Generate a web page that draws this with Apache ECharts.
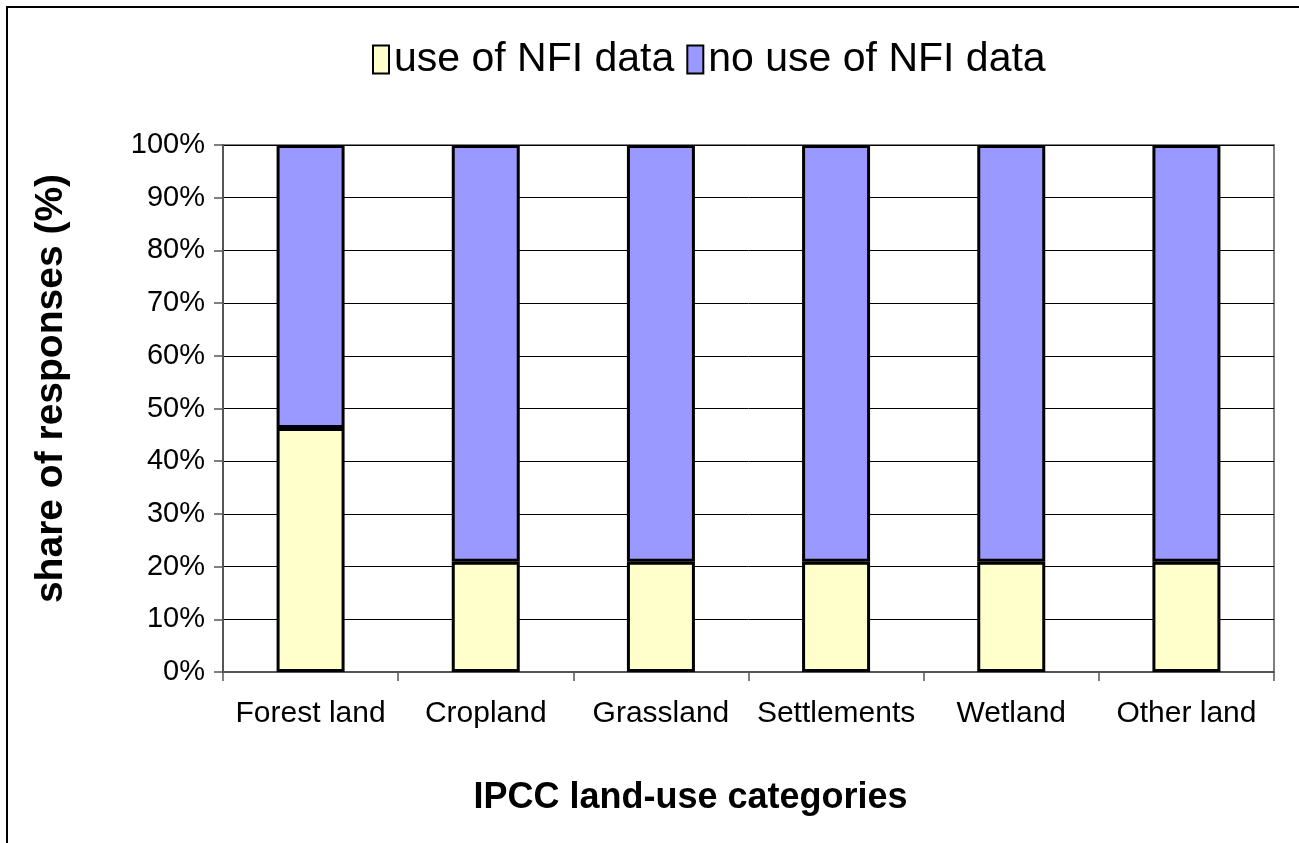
<!DOCTYPE html>
<html>
<head>
<meta charset="utf-8">
<script src="https://cdn.jsdelivr.net/npm/echarts@6/dist/echarts.min.js"></script>
<style>
  html, body { margin: 0; padding: 0; background: #fff; }
  #chart { width: 1299px; height: 843px; }
</style>
</head>
<body>
<div id="chart"></div>
<script>
// land-use categories and share of responses (%)
var categories = ['Forest land', 'Cropland', 'Grassland', 'Settlements', 'Wetland', 'Other land'];
var useNfi = [46.3, 20.9, 20.9, 20.9, 20.9, 20.9];
var noUseNfi = [53.7, 79.1, 79.1, 79.1, 79.1, 79.1];
var seriesNames = ['use of NFI data', 'no use of NFI data'];

var myChart = echarts.init(document.getElementById('chart'));
var font = 'Liberation Sans, Arial, sans-serif';
var option = {
    backgroundColor: '#fff',
    animation: false,
    textStyle: {fontFamily: font},
    legend: {
        top: 34,
        left: 367,
        itemWidth: 16,
        itemHeight: 28,
        itemGap: 12,
        icon: 'rect',
        data: seriesNames,
        textStyle: {fontSize: 41, color: '#000'}
    },
    grid: {
        left: 223,
        right: 25,
        top: 145,
        bottom: 171,
        show: true,
        borderColor: '#808080',
        borderWidth: 2,
        containLabel: false
    },
    xAxis: {
        type: 'category',
        data: categories,
        name: 'IPCC land-use categories',
        nameLocation: 'middle',
        nameGap: 108,
        nameTextStyle: {fontSize: 36, fontWeight: 'bold', color: '#000', padding: [0, 116, 0, 0]},
        axisLine: {lineStyle: {color: '#555', width: 2}},
        axisTick: {show: true, interval: 0, length: 9, lineStyle: {color: '#555', width: 1.5}},
        axisLabel: {fontSize: 30, color: '#000', margin: 27, interval: 0},
        splitLine: {show: false}
    },
    yAxis: {
        type: 'value',
        min: 0,
        max: 100,
        interval: 10,
        name: 'share of responses (%)',
        nameLocation: 'middle',
        nameRotate: 90,
        nameGap: 152,
        nameTextStyle: {fontSize: 39, fontWeight: 'bold', color: '#000', padding: [0, 0, 0, 40]},
        axisLine: {show: true, lineStyle: {color: '#555', width: 2}},
        axisTick: {show: true, length: 9, lineStyle: {color: '#555', width: 1.5}},
        axisLabel: {fontSize: 29, color: '#000', margin: 18, formatter: '{value}%'},
        splitLine: {lineStyle: {color: '#000', width: 1}}
    },
    series: [
        {
            name: seriesNames[0],
            type: 'bar',
            stack: 'total',
            barWidth: 68,
            data: useNfi,
            itemStyle: {color: '#FFFFCC', borderColor: '#000', borderWidth: 3}
        },
        {
            name: seriesNames[1],
            type: 'bar',
            stack: 'total',
            barWidth: 68,
            data: noUseNfi,
            itemStyle: {color: '#9999FF', borderColor: '#000', borderWidth: 3}
        }
    ],
    graphic: [{
        type: 'rect',
        shape: {x: 7, y: 7, width: 1320, height: 860},
        style: {fill: null, stroke: '#000', lineWidth: 2},
        silent: true
    }]
};
myChart.setOption(option);
window.addEventListener('resize', function () {
    myChart.resize();
});
</script>
</body>
</html>
